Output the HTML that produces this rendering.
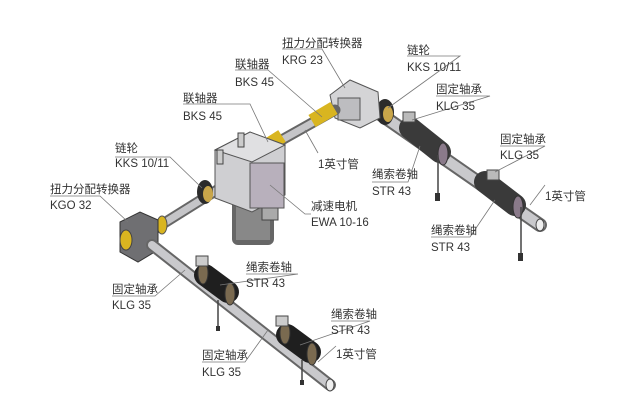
<!DOCTYPE html>
<html><head><meta charset="utf-8"><style>
html,body{margin:0;padding:0;background:#fff;}
svg{display:block;}
text{font-family:"Liberation Sans","Noto Sans CJK SC",sans-serif;font-size:11.5px;fill:#333;}
</style></head><body>
<svg width="626" height="413" viewBox="0 0 626 413" xmlns="http://www.w3.org/2000/svg">
<!-- upper right shaft -->
<line x1="360" y1="100" x2="540" y2="225" stroke="#666" stroke-width="14" stroke-linecap="round"/>
<line x1="360" y1="100" x2="540" y2="225" stroke="#c9c9cc" stroke-width="10" stroke-linecap="round"/>
<!-- drums upper right -->
<line x1="410" y1="128" x2="440" y2="152" stroke="#3a3a3a" stroke-width="22" stroke-linecap="round"/>
<line x1="485" y1="182" x2="515" y2="205" stroke="#3a3a3a" stroke-width="22" stroke-linecap="round"/>
<ellipse cx="443" cy="154" rx="5" ry="11" fill="#8a7a8a" stroke="#333"/>
<ellipse cx="518" cy="207" rx="5" ry="11" fill="#8a7a8a" stroke="#333"/>
<ellipse cx="540" cy="225" rx="4" ry="6" fill="#eee" stroke="#444"/>
<line x1="438" y1="155" x2="438" y2="195" stroke="#444" stroke-width="1.5"/>
<rect x="435" y="193" width="5" height="8" fill="#333"/>
<line x1="521" y1="207" x2="521" y2="255" stroke="#444" stroke-width="1.5"/>
<rect x="518" y="253" width="5" height="8" fill="#333"/>
<rect x="403" y="112" width="12" height="10" fill="#bbb" stroke="#444"/>
<rect x="487" y="170" width="12" height="10" fill="#bbb" stroke="#444"/>
<!-- sprocket right -->
<ellipse cx="385" cy="112" rx="9" ry="13" fill="#2b2b2b"/>
<ellipse cx="388" cy="114" rx="5" ry="8" fill="#c9a64a"/>
<!-- KRG box -->
<polygon points="330,95 350,80 378,92 380,118 360,128 335,118" fill="#d4d4d6" stroke="#555"/>
<rect x="338" y="98" width="22" height="22" fill="#bdbdc0" stroke="#555"/>
<!-- top shaft motor->KRG -->
<line x1="255" y1="155" x2="335" y2="110" stroke="#666" stroke-width="11" stroke-linecap="round"/>
<line x1="255" y1="155" x2="335" y2="110" stroke="#c5c5c8" stroke-width="7"/>
<line x1="260" y1="150" x2="282" y2="136" stroke="#d9b520" stroke-width="14"/>
<line x1="312" y1="121" x2="334" y2="108" stroke="#d9b520" stroke-width="14"/>
<!-- left shaft KGO->motor -->
<line x1="145" y1="235" x2="225" y2="185" stroke="#666" stroke-width="11" stroke-linecap="round"/>
<line x1="145" y1="235" x2="225" y2="185" stroke="#c5c5c8" stroke-width="7"/>
<ellipse cx="205" cy="192" rx="8" ry="12" fill="#2b2b2b"/>
<ellipse cx="208" cy="194" rx="5" ry="8" fill="#c9a64a"/>
<ellipse cx="162" cy="225" rx="5" ry="9" fill="#d9b520" stroke="#555"/>
<!-- motor -->
<rect x="232" y="195" width="42" height="50" rx="6" fill="#666"/>
<rect x="236" y="200" width="34" height="40" fill="#888"/>
<rect x="262" y="200" width="16" height="20" fill="#aaa" stroke="#444"/>
<polygon points="215,150 250,132 285,145 285,195 252,212 215,198" fill="#cfcfd2" stroke="#555"/>
<polygon points="215,150 250,132 285,145 252,162" fill="#e0e0e2" stroke="#555"/>
<rect x="250" y="163" width="34" height="45" fill="#b8b0bc" stroke="#555"/>
<rect x="238" y="133" width="6" height="14" fill="#ccc" stroke="#444"/>
<rect x="217" y="150" width="6" height="14" fill="#ccc" stroke="#444"/>
<!-- KGO box -->
<polygon points="120,222 140,212 158,220 158,250 138,262 120,252" fill="#6f6f72" stroke="#333"/>
<ellipse cx="126" cy="240" rx="6" ry="10" fill="#d9b520" stroke="#444"/>
<!-- lower shaft -->
<line x1="152" y1="245" x2="330" y2="385" stroke="#666" stroke-width="12" stroke-linecap="round"/>
<line x1="152" y1="245" x2="330" y2="385" stroke="#c9c9cc" stroke-width="8" stroke-linecap="round"/>
<ellipse cx="330" cy="385" rx="4" ry="6" fill="#eee" stroke="#444"/>
<line x1="205" y1="275" x2="228" y2="292" stroke="#1f1f1f" stroke-width="22" stroke-linecap="round"/>
<line x1="287" y1="335" x2="310" y2="352" stroke="#1f1f1f" stroke-width="22" stroke-linecap="round"/>
<ellipse cx="203" cy="273" rx="5" ry="11" fill="#7a6a50" stroke="#333"/>
<ellipse cx="230" cy="294" rx="5" ry="11" fill="#7a6a50" stroke="#333"/>
<ellipse cx="285" cy="333" rx="5" ry="11" fill="#7a6a50" stroke="#333"/>
<ellipse cx="312" cy="354" rx="5" ry="11" fill="#7a6a50" stroke="#333"/>
<rect x="196" y="256" width="12" height="10" fill="#ccc" stroke="#444"/>
<rect x="276" y="316" width="12" height="10" fill="#ccc" stroke="#444"/>
<line x1="218" y1="300" x2="218" y2="328" stroke="#444" stroke-width="1.5"/>
<rect x="216" y="326" width="4" height="5" fill="#333"/>
<line x1="302" y1="360" x2="302" y2="382" stroke="#444" stroke-width="1.5"/>
<rect x="300" y="380" width="4" height="5" fill="#333"/>
<!-- leader lines -->
<g stroke="#777" stroke-width="0.8" fill="none">
<polyline points="282,49 322,49 345,88"/>
<polyline points="235,70 268,70 322,117"/>
<polyline points="183,104 250,104 268,142"/>
<polyline points="407,56 460,56 388,108"/>
<polyline points="436,96 490,96 412,120"/>
<polyline points="115,157 170,157 202,188"/>
<polyline points="318,153 305,130"/>
<polyline points="372,182 408,182 420,146"/>
<polyline points="500,146 545,146 495,172"/>
<polyline points="545,185 530,205"/>
<polyline points="50,196 100,196 128,222"/>
<polyline points="311,214 305,214 270,185"/>
<polyline points="431,237 470,237 495,200"/>
<polyline points="246,274 298,274 220,285"/>
<polyline points="112,296 155,296 185,270"/>
<polyline points="331,321 370,321 300,345"/>
<polyline points="336,346 318,362"/>
<polyline points="202,362 245,362 268,330"/>
</g>
<text x="282" y="47">扭力分配转换器</text>
<text x="282" y="64">KRG 23</text>
<text x="235" y="68">联轴器</text>
<text x="235" y="86">BKS 45</text>
<text x="183" y="102">联轴器</text>
<text x="183" y="120">BKS 45</text>
<text x="407" y="54">链轮</text>
<text x="407" y="71">KKS 10/11</text>
<text x="436" y="93">固定轴承</text>
<text x="436" y="110">KLG 35</text>
<text x="115" y="152">链轮</text>
<text x="115" y="167">KKS 10/11</text>
<text x="318" y="168">1英寸管</text>
<text x="372" y="178">绳索卷轴</text>
<text x="372" y="195">STR 43</text>
<text x="500" y="143">固定轴承</text>
<text x="500" y="159">KLG 35</text>
<text x="545" y="200">1英寸管</text>
<text x="50" y="193">扭力分配转换器</text>
<text x="50" y="209">KGO 32</text>
<text x="311" y="210">减速电机</text>
<text x="311" y="226">EWA 10-16</text>
<text x="431" y="234">绳索卷轴</text>
<text x="431" y="251">STR 43</text>
<text x="246" y="271">绳索卷轴</text>
<text x="246" y="287">STR 43</text>
<text x="112" y="293">固定轴承</text>
<text x="112" y="309">KLG 35</text>
<text x="331" y="318">绳索卷轴</text>
<text x="331" y="334">STR 43</text>
<text x="336" y="358">1英寸管</text>
<text x="202" y="359">固定轴承</text>
<text x="202" y="376">KLG 35</text>
</svg>
</body></html>
